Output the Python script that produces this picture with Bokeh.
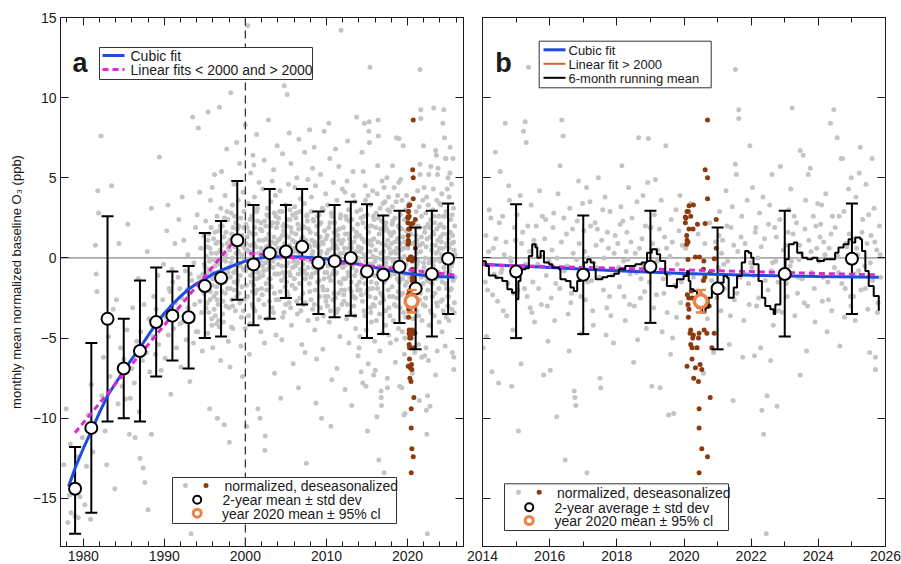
from bokeh.plotting import figure
from bokeh.models import Range1d, LinearAxis, SingleIntervalTicker, Span
from bokeh.layouts import row
from bokeh.embed import file_html
from bokeh.resources import INLINE
from bokeh.core.properties import value

# ---------------- data ----------------
gray_1977_1989 = [(1977.6,-12.9),(1977.9,-9.4),(1978.1,-16.5),(1978.3,-14.8),(1978.4,-11.6),(1978.5,-15.9),(1978.8,-13.6),(1979.0,-16.1),(1979.2,-12.4),(1979.4,-16.2),(1979.6,-14.9),(1979.9,-11.2),(1980.2,-15.4),(1980.4,-13.0),(1980.6,-9.8),(1980.9,-16.3),(1981.0,-7.9),(1981.2,-12.1),(1981.5,0.8),(1981.6,-1.0),(1981.7,-2.1),(1981.8,4.2),(1981.9,2.8),(1982.2,7.6),(1982.3,-8.6),(1982.5,-6.2),(1982.7,-10.8),(1982.9,-12.9),(1983.1,-4.9),(1983.3,-7.4),(1983.5,4.5),(1983.7,-3.2),(1983.9,-14.4),(1984.1,-2.6),(1984.3,-9.1),(1984.4,0.9),(1984.6,-5.6),(1984.8,-8.0),(1985.0,-6.3),(1985.2,-8.8),(1985.4,-4.5),(1985.5,2.1),(1985.7,-11.0),(1985.8,-8.75),(1986.0,-6.9),(1986.1,-3.1),(1986.3,-7.8),(1986.4,-11.2),(1986.6,-5.2),(1986.8,-1.3),(1986.9,-9.6),(1987.0,-12.5),(1987.1,-4.6),(1987.3,-6.4),(1987.4,-13.1),(1987.5,-2.9),(1987.6,-14.0),(1987.8,-5.9),(1987.9,0.4),(1988.0,-15.7),(1988.1,-3.8),(1988.2,-7.1),(1988.4,3.1),(1988.4,-11.0),(1988.6,-4.9),(1988.7,-2.4),(1988.9,-6.0),(1989.0,-3.2),(1989.2,-1.1),(1989.3,-5.4),(1989.4,6.3),(1989.5,-4.1),(1989.6,-7.0),(1989.8,-2.6),(1989.9,-0.4)]

gray_1990_1999 = [(1990.1,-6.25),(1990.2,-3.7),(1990.3,1.7),(1990.45,3.3),(1990.5,-4.8),(1990.6,-1.9),(1990.7,-2.1),(1990.8,-8.5),(1990.9,-3.0),(1990.95,-0.7),
(1991.05,-1.5),(1991.15,-4.4),(1991.3,0.9),(1991.4,-2.8),(1991.5,-5.6),(1991.6,-3.3),(1991.7,-1.2),(1991.8,2.4),(1991.9,-1.9),(1991.95,-4.1),
(1992.05,-6.8),(1992.15,-2.5),(1992.3,-4.0),(1992.4,1.1),(1992.5,-3.6),(1992.6,-0.8),(1992.7,-5.1),(1992.8,-2.0),(1992.9,0.2),(1992.95,-3.1),(1992.2,3.8),
(1993.05,-2.2),(1993.15,-7.7),(1993.3,-17.2),(1993.4,-1.4),(1993.5,8.8),(1993.55,-3.9),(1993.65,-0.3),(1993.75,-2.9),(1993.85,1.9),(1993.95,-4.6),(1993.2,-1.0),(1993.6,-5.3),
(1994.05,2.7),(1994.15,-4.6),(1994.2,8.1),(1994.3,-1.2),(1994.4,-2.7),(1994.5,0.6),(1994.6,-3.4),(1994.7,-5.8),(1994.75,-1.0),(1994.85,1.4),(1994.9,-2.2),(1994.95,-0.4),(1994.35,4.1),
(1995.05,-0.6),(1995.1,2.3),(1995.15,-3.1),(1995.2,-1.4),(1995.3,0.7),(1995.35,-4.7),(1995.4,9.1),(1995.45,-2.0),(1995.5,1.5),(1995.55,-0.2),(1995.6,-9.4),(1995.65,-2.6),(1995.7,3.6),(1995.75,-1.1),(1995.8,0.3),(1995.85,-3.8),(1995.9,-1.7),(1995.92,4.4),(1995.95,-0.9),(1995.98,-5.6),
(1996.02,-1.3),(1996.08,1.2),(1996.12,-2.4),(1996.2,5.2),(1996.25,-0.5),(1996.3,-3.6),(1996.38,0.9),(1996.45,-1.8),(1996.5,2.6),(1996.55,-10.0),(1996.6,-0.1),(1996.65,-2.9),(1996.72,1.7),(1996.78,-4.3),(1996.8,9.4),(1996.85,-1.0),(1996.9,0.5),(1996.95,-6.4),(1996.97,3.1),(1996.4,-2.2),
(1997.02,0.4),(1997.1,-2.1),(1997.15,2.0),(1997.22,-0.8),(1997.3,-4.0),(1997.35,1.3),(1997.4,-10.4),(1997.45,-1.5),(1997.5,3.9),(1997.55,-0.2),(1997.62,-3.0),(1997.7,6.8),(1997.75,0.9),(1997.8,-1.9),(1997.85,2.4),(1997.9,-5.2),(1997.95,-0.6),(1997.6,1.6),(1997.25,-2.7),(1997.05,5.4),
(1998.02,-11.5),(1998.08,1.1),(1998.15,-1.2),(1998.2,10.3),(1998.25,2.8),(1998.3,-2.6),(1998.38,0.0),(1998.45,-4.4),(1998.5,1.9),(1998.55,-0.9),(1998.6,4.6),(1998.65,-2.0),(1998.7,0.7),(1998.78,-3.3),(1998.82,2.2),(1998.88,-0.4),(1998.92,7.2),(1998.97,-1.6),(1998.4,3.3),(1998.1,-6.8),
(1999.02,1.8),(1999.08,-0.3),(1999.12,3.6),(1999.2,-2.2),(1999.25,0.9),(1999.3,5.9),(1999.35,-1.1),(1999.42,2.5),(1999.5,-3.7),(1999.55,0.2),(1999.6,1.4),(1999.65,-7.4),(1999.72,4.1),(1999.78,-0.7),(1999.83,2.9),(1999.88,-2.6),(1999.93,0.6),(1999.97,8.3),(1999.45,-5.5),(1999.15,1.0)]

gray_2000_2007 = [(2000.02,-0.8),(2000.08,2.1),(2000.15,-10.5),(2000.2,0.5),(2000.27,14.5),(2000.3,-2.4),(2000.35,3.4),(2000.42,-0.3),(2000.48,1.6),(2000.55,-4.1),(2000.6,0.8),(2000.66,5.3),(2000.72,-1.5),(2000.78,2.6),(2000.83,-2.9),(2000.88,0.1),(2000.93,6.4),(2000.97,-0.9),(2000.5,-6.0),(2000.25,1.3),
(2001.02,-1.7),(2001.08,0.9),(2001.12,3.8),(2001.2,-3.3),(2001.25,1.5),(2001.3,-0.6),(2001.38,7.7),(2001.45,-2.0),(2001.5,2.3),(2001.55,-9.4),(2001.62,0.3),(2001.7,4.7),(2001.75,-1.2),(2001.8,-10.0),(2001.85,1.8),(2001.9,-4.6),(2001.95,0.6),(2001.4,2.9),(2001.65,-2.6),(2001.05,5.8),
(2002.02,0.2),(2002.08,-2.3),(2002.15,4.3),(2002.2,1.1),(2002.25,-0.8),(2002.32,6.1),(2002.4,-12.0),(2002.45,-11.1),(2002.5,2.0),(2002.55,-1.6),(2002.6,0.7),(2002.68,-3.8),(2002.72,3.1),(2002.8,-0.2),(2002.85,8.6),(2002.9,1.5),(2002.95,-2.7),(2002.35,-5.3),(2002.65,2.7),(2002.12,-0.5),
(2003.02,1.0),(2003.08,-1.3),(2003.15,3.5),(2003.22,0.4),(2003.28,-3.1),(2003.35,2.2),(2003.4,-0.6),(2003.48,5.5),(2003.52,1.3),(2003.58,-2.2),(2003.65,0.0),(2003.72,3.9),(2003.78,-4.8),(2003.82,1.9),(2003.88,-1.0),(2003.92,7.0),(2003.97,0.6),(2003.6,-7.2),(2003.3,4.8),(2003.75,2.6),
(2004.02,-0.4),(2004.1,2.5),(2004.15,-2.6),(2004.22,1.2),(2004.28,4.2),(2004.35,-8.75),(2004.4,0.3),(2004.45,-1.4),(2004.52,2.9),(2004.58,6.5),(2004.62,-0.9),(2004.7,1.7),(2004.75,-3.4),(2004.8,10.75),(2004.85,0.9),(2004.9,-1.8),(2004.95,3.3),(2004.5,-5.1),(2004.25,0.0),(2004.65,2.0),
(2005.02,1.4),(2005.08,-1.5),(2005.15,10.2),(2005.2,2.4),(2005.25,-0.3),(2005.32,4.6),(2005.38,-2.8),(2005.45,0.8),(2005.5,3.0),(2005.55,-1.1),(2005.62,5.9),(2005.68,-4.2),(2005.72,1.6),(2005.8,-0.6),(2005.85,2.7),(2005.9,-6.6),(2005.95,0.4),(2005.4,7.8),(2005.6,1.9),(2005.12,-2.1),
(2006.02,0.6),(2006.08,3.2),(2006.15,-1.9),(2006.22,1.5),(2006.28,-0.2),(2006.35,5.0),(2006.42,-3.5),(2006.48,2.1),(2006.52,-1.0),(2006.6,7.4),(2006.65,0.9),(2006.7,-2.5),(2006.78,3.7),(2006.82,-0.7),(2006.9,1.2),(2006.95,-5.4),(2006.3,2.8),(2006.55,-8.1),(2006.12,4.4),(2006.75,0.2),
(2007.02,-0.9),(2007.08,2.0),(2007.15,0.5),(2007.2,-2.9),(2007.28,3.4),(2007.32,6.6),(2007.4,-1.3),(2007.45,1.1),(2007.52,-12.8),(2007.58,2.6),(2007.62,-0.1),(2007.7,4.9),(2007.75,-3.9),(2007.8,1.8),(2007.88,-1.6),(2007.92,8.0),(2007.97,0.7),(2007.35,-5.9),(2007.65,2.3),(2007.12,-0.4)]

gray_2008_2013 = [(2008.02,1.6),(2008.08,-1.2),(2008.15,3.8),(2008.22,0.2),(2008.28,-3.2),(2008.35,2.4),(2008.4,-0.6),(2008.48,6.9),(2008.52,1.0),(2008.6,-2.0),(2008.65,4.5),(2008.72,-0.3),(2008.78,-6.3),(2008.82,2.0),(2008.9,-1.5),(2008.95,0.7),(2008.3,5.6),(2008.55,-4.5),(2008.12,2.9),(2008.7,-9.05),
(2009.02,-0.7),(2009.08,2.7),(2009.15,-2.4),(2009.22,1.3),(2009.28,5.2),(2009.35,-0.1),(2009.4,-10.0),(2009.48,3.1),(2009.52,-1.8),(2009.6,0.9),(2009.65,-3.6),(2009.72,7.9),(2009.78,1.7),(2009.82,-0.9),(2009.9,4.0),(2009.95,-2.7),(2009.3,0.4),(2009.55,-5.7),(2009.12,2.1),(2009.7,-1.3),
(2010.02,0.3),(2010.08,-2.0),(2010.15,3.3),(2010.22,-0.5),(2010.28,1.9),(2010.35,-4.0),(2010.4,6.2),(2010.48,0.0),(2010.52,-1.4),(2010.6,2.8),(2010.65,-7.6),(2010.72,1.1),(2010.78,-2.6),(2010.85,4.7),(2010.9,-0.8),(2010.95,1.6),(2010.3,8.4),(2010.55,-10.5),(2010.12,-3.0),(2010.7,0.6),
(2011.02,2.2),(2011.08,-1.0),(2011.15,0.8),(2011.22,-3.4),(2011.28,3.6),(2011.35,-0.4),(2011.4,1.4),(2011.48,-2.2),(2011.52,5.7),(2011.6,0.1),(2011.65,-4.9),(2011.72,2.5),(2011.78,-1.6),(2011.8,14.2),(2011.85,0.9),(2011.9,-2.9),(2011.95,4.3),(2011.3,-6.9),(2011.55,1.8),(2011.12,6.8),
(2012.02,-0.6),(2012.08,1.9),(2012.15,-2.7),(2012.22,0.6),(2012.28,4.1),(2012.35,-1.3),(2012.4,2.6),(2012.48,-3.8),(2012.52,0.2),(2012.6,7.3),(2012.65,-0.9),(2012.72,3.0),(2012.78,-5.3),(2012.82,1.2),(2012.9,-1.9),(2012.95,0.9),(2012.3,-8.2),(2012.55,4.8),(2012.12,-2.3),(2012.7,1.5),
(2013.02,0.8),(2013.08,-2.1),(2013.15,2.4),(2013.22,-0.2),(2013.28,5.4),(2013.35,-3.0),(2013.4,1.0),(2013.48,-1.1),(2013.52,3.5),(2013.6,-4.4),(2013.65,0.4),(2013.72,8.8),(2013.78,-1.7),(2013.82,2.1),(2013.9,-6.1),(2013.95,0.0),(2013.3,3.9),(2013.55,-2.5),(2013.12,-9.2),(2013.7,1.6)]

gray_2014_2017 = [(2014.05,-0.3),(2014.1,1.4),(2014.15,-2.0),(2014.2,3.0),(2014.28,-7.1),(2014.32,0.6),(2014.38,6.6),(2014.42,-1.2),(2014.48,-7.8),(2014.5,2.2),(2014.53,5.4),(2014.58,-0.7),(2014.62,-3.3),(2014.68,8.4),(2014.7,1.0),(2014.75,-1.6),(2014.8,3.6),(2014.85,-0.2),(2014.87,-8.0),(2014.9,-4.5),(2014.95,1.9),(2014.12,-4.9),(2014.25,2.5),(2014.45,-2.7),(2014.65,0.2),(2014.78,4.5),(2014.02,-5.6),(2014.35,-1.0),
(2015.03,2.7),(2015.07,-10.8),(2015.1,-0.9),(2015.15,-6.6),(2015.2,1.6),(2015.22,7.9),(2015.27,8.5),(2015.3,7.2),(2015.33,-2.4),(2015.37,11.9),(2015.4,0.4),(2015.45,3.3),(2015.5,-1.5),(2015.55,-4.0),(2015.6,2.0),(2015.65,-0.4),(2015.7,4.2),(2015.75,-2.9),(2015.82,-7.3),(2015.85,1.2),(2015.9,-1.1),(2015.95,-5.2),(2015.12,3.9),(2015.42,-3.1),(2015.58,0.8),(2015.78,2.6),(2015.98,-0.2),(2015.25,-1.9),
(2016.02,-7.0),(2016.07,0.5),(2016.12,2.8),(2016.18,-1.6),(2016.21,-9.9),(2016.25,4.0),(2016.31,5.75),(2016.36,8.6),(2016.4,7.6),(2016.44,-0.8),(2016.46,-12.6),(2016.5,1.5),(2016.55,-3.5),(2016.6,3.1),(2016.65,-2.2),(2016.7,0.3),(2016.73,-8.3),(2016.75,-8.7),(2016.78,-9.2),(2016.82,2.3),(2016.86,4.8),(2016.9,-1.3),(2016.95,-4.7),(2016.15,-3.9),(2016.35,1.0),(2016.58,-5.8),(2016.88,0.9),(2016.98,3.4),
(2017.02,1.7),(2017.06,-2.6),(2017.11,-13.4),(2017.15,0.0),(2017.2,3.5),(2017.25,-1.4),(2017.3,-4.2),(2017.35,2.2),(2017.4,-0.6),(2017.45,5.0),(2017.5,-7.5),(2017.52,-8.1),(2017.55,1.1),(2017.6,-2.0),(2017.65,3.8),(2017.7,-3.1),(2017.75,0.6),(2017.8,2.9),(2017.85,-1.1),(2017.9,-5.3),(2017.95,1.4),(2017.1,4.4),(2017.32,-0.3),(2017.58,3.0),(2017.78,-2.4),(2017.98,-0.8),(2017.42,1.8),(2017.68,-4.8)]

gray_2018_2021 = [(2018.03,0.9),(2018.08,-1.8),(2018.12,3.2),(2018.15,5.75),(2018.2,-0.2),(2018.25,-3.9),(2018.3,1.6),(2018.35,4.4),(2018.4,-1.0),(2018.45,2.5),(2018.5,-6.5),(2018.55,0.3),(2018.6,3.5),(2018.65,7.5),(2018.7,-2.5),(2018.75,1.2),(2018.8,-0.5),(2018.85,2.0),(2018.88,-4.4),(2018.92,4.7),(2018.94,7.45),(2018.97,-1.5),(2018.18,2.3),(2018.38,-2.9),(2018.58,-0.9),(2018.78,3.9),(2018.62,-5.1),(2018.28,0.4),
(2019.02,1.9),(2019.04,-8.0),(2019.08,-0.7),(2019.12,2.7),(2019.18,-2.3),(2019.22,0.5),(2019.29,-8.1),(2019.32,3.6),(2019.38,-1.3),(2019.42,1.3),(2019.46,7.0),(2019.5,-3.4),(2019.54,-9.8),(2019.58,0.1),(2019.62,2.4),(2019.66,-5.0),(2019.69,-9.7),(2019.72,-1.7),(2019.76,3.0),(2019.8,-0.4),(2019.85,1.7),(2019.9,-2.8),(2019.95,0.8),(2019.15,4.9),(2019.35,-4.6),(2019.6,-6.0),(2019.88,3.9),(2019.98,-1.0),
(2020.05,0.6),(2020.12,-3.0),(2020.2,3.4),(2020.28,-1.2),(2020.35,-5.6),(2020.42,1.5),(2020.5,-2.2),(2020.58,-7.2),(2020.62,0.9),(2020.7,-3.8),(2020.76,2.2),(2020.82,-1.4),(2020.88,-5.9),(2020.94,1.0),(2020.98,-2.5),
(2021.02,-0.6),(2021.06,2.9),(2021.1,-3.3),(2021.15,1.1),(2021.2,-1.9),(2021.25,4.2),(2021.3,-0.2),(2021.35,-5.4),(2021.4,1.9),(2021.46,-8.9),(2021.5,-2.6),(2021.53,5.85),(2021.53,11.75),(2021.56,5.2),(2021.6,0.4),(2021.63,9.25),(2021.63,8.7),(2021.68,-1.2),(2021.72,2.6),(2021.78,-3.9),(2021.82,0.9),(2021.88,3.6),(2021.92,-1.6),(2021.96,7.0),(2021.98,-0.3),(2021.44,3.2),(2021.75,-6.2),(2021.12,0.3)]

gray_2022_2026 = [(2022.04,4.4),(2022.08,-1.1),(2022.12,1.6),(2022.16,-3.0),(2022.2,0.0),(2022.25,2.8),(2022.28,-5.6),(2022.32,-9.5),(2022.37,-11.0),(2022.4,1.2),(2022.45,-17.2),(2022.47,-8.6),(2022.5,-2.0),(2022.55,3.3),(2022.6,-0.8),(2022.62,5.2),(2022.66,-4.2),(2022.7,1.9),(2022.77,-9.25),(2022.8,-1.5),(2022.85,2.4),(2022.87,5.7),(2022.92,-3.4),(2022.96,0.5),(2022.1,-6.1),(2022.35,3.8),(2022.58,-6.4),(2022.73,-0.2),
(2023.03,0.8),(2023.07,-2.4),(2023.12,3.0),(2023.16,-0.5),(2023.22,9.35),(2023.25,1.5),(2023.3,-3.6),(2023.35,2.2),(2023.4,-1.2),(2023.46,6.7),(2023.46,-7.3),(2023.5,0.3),(2023.55,6.4),(2023.58,-2.8),(2023.62,3.6),(2023.65,-5.8),(2023.7,5.2),(2023.72,1.1),(2023.76,5.6),(2023.8,-0.9),(2023.85,2.6),(2023.9,-4.0),(2023.95,0.6),(2023.18,4.3),(2023.42,-0.1),(2023.6,1.8),(2023.88,-1.9),(2023.98,3.4),
(2024.02,-0.2),(2024.07,2.1),(2024.12,-2.7),(2024.16,1.0),(2024.22,4.0),(2024.28,-1.5),(2024.32,0.6),(2024.36,8.4),(2024.4,-3.3),(2024.46,9.25),(2024.5,1.9),(2024.56,7.5),(2024.6,-0.9),(2024.64,-5.5),(2024.68,6.2),(2024.72,6.2),(2024.76,2.9),(2024.8,-1.9),(2024.85,0.7),(2024.9,4.3),(2024.95,-2.4),(2024.1,3.3),(2024.26,-4.6),(2024.42,2.6),(2024.58,0.1),(2024.78,-3.7),(2024.92,1.5),(2024.98,5.0),
(2025.03,1.2),(2025.07,-1.0),(2025.12,3.8),(2025.17,0.2),(2025.22,5.3),(2025.27,-2.0),(2025.32,2.4),(2025.38,-0.5),(2025.42,4.6),(2025.47,-3.2),(2025.53,-5.9),(2025.57,1.4),(2025.62,-1.4),(2025.66,3.1),(2025.7,-6.2),(2025.7,-6.96),(2025.74,0.5),(2025.78,-2.8),(2025.82,2.0),(2025.86,-1.2),(2025.25,6.9),(2025.45,0.9),(2025.6,6.2),(2025.1,-3.9)]

# the dense core of the cloud (-4.5 .. +3 ppb)
gray_core_1995_2004 = [(1995.08,-1.9),(1995.18,0.1),(1995.28,-2.8),(1995.38,1.1),(1995.48,-3.4),(1995.58,-0.7),(1995.68,-2.1),(1995.78,1.9),(1995.88,-4.2),(1995.96,-1.3),(1995.33,-0.9),(1995.63,0.6),
(1996.05,-0.1),(1996.15,-3.2),(1996.24,1.6),(1996.33,-1.1),(1996.43,0.3),(1996.52,-2.6),(1996.62,1.0),(1996.7,-3.9),(1996.8,-0.4),(1996.9,2.0),(1996.98,-1.6),(1996.47,-4.1),
(1997.04,-1.2),(1997.13,0.8),(1997.2,-3.5),(1997.32,-0.1),(1997.42,2.5),(1997.5,-2.2),(1997.58,0.2),(1997.66,-1.3),(1997.74,2.9),(1997.84,-0.9),(1997.92,0.6),(1997.98,-3.1),
(1998.05,0.5),(1998.13,-1.9),(1998.22,-0.3),(1998.32,1.5),(1998.42,-3.0),(1998.52,0.9),(1998.6,-1.5),(1998.68,2.6),(1998.76,-0.8),(1998.85,0.3),(1998.94,-2.4),(1998.28,-4.3),
(1999.05,-1.4),(1999.14,0.4),(1999.22,2.0),(1999.32,-2.8),(1999.4,-0.5),(1999.48,1.2),(1999.57,-1.8),(1999.66,0.8),(1999.74,-3.3),(1999.82,1.9),(1999.9,-0.1),(1999.98,-4.4),
(2000.05,0.9),(2000.12,-1.7),(2000.22,1.9),(2000.32,-0.6),(2000.4,-3.6),(2000.46,0.4),(2000.58,2.4),(2000.65,-1.1),(2000.75,0.2),(2000.85,-2.1),(2000.92,1.5),(2000.99,-3.1),
(2001.04,-0.3),(2001.14,1.9),(2001.22,-2.2),(2001.33,0.7),(2001.42,-1.3),(2001.48,3.1),(2001.58,-0.9),(2001.67,1.1),(2001.77,-3.7),(2001.87,-0.2),(2001.93,2.2),(2001.99,-1.9),
(2002.05,1.7),(2002.14,-1.1),(2002.22,0.4),(2002.3,-2.9),(2002.38,2.3),(2002.48,-0.3),(2002.57,1.2),(2002.63,-2.0),(2002.74,-0.7),(2002.83,2.6),(2002.92,-1.3),(2002.99,0.8),
(2003.05,-0.5),(2003.12,2.0),(2003.2,-1.8),(2003.25,1.0),(2003.37,-0.2),(2003.45,-3.4),(2003.55,2.8),(2003.62,-1.0),(2003.7,0.9),(2003.8,-2.6),(2003.86,0.3),(2003.95,2.2),
(2004.05,1.1),(2004.13,-1.0),(2004.2,2.9),(2004.3,-2.1),(2004.38,0.6),(2004.48,-0.5),(2004.55,1.4),(2004.6,-3.7),(2004.68,0.2),(2004.78,2.1),(2004.88,-1.2),(2004.97,-2.9)]

gray_core_2005_2013 = [(2005.05,-0.5),(2005.1,2.0),(2005.18,0.2),(2005.28,-2.3),(2005.35,1.3),(2005.42,-0.9),(2005.52,2.4),(2005.58,-3.1),(2005.66,0.3),(2005.75,-1.7),(2005.82,1.1),(2005.92,-0.2),
(2006.05,-1.3),(2006.1,1.0),(2006.18,-0.5),(2006.25,2.5),(2006.33,-2.7),(2006.4,0.4),(2006.5,-0.3),(2006.58,1.8),(2006.68,-1.6),(2006.73,2.9),(2006.85,-3.3),(2006.93,0.1),
(2007.05,1.3),(2007.1,-2.2),(2007.18,0.9),(2007.25,-0.8),(2007.3,1.9),(2007.38,-2.8),(2007.48,0.0),(2007.55,-1.0),(2007.6,2.7),(2007.72,-0.6),(2007.83,0.8),(2007.95,-2.1),
(2008.05,-0.2),(2008.1,-2.6),(2008.18,1.1),(2008.25,-1.0),(2008.32,0.4),(2008.43,2.3),(2008.5,-2.9),(2008.58,0.8),(2008.68,-0.9),(2008.75,1.5),(2008.85,-3.8),(2008.92,2.6),
(2009.05,0.8),(2009.1,-1.4),(2009.18,0.2),(2009.25,-3.1),(2009.33,2.2),(2009.42,-0.6),(2009.5,1.0),(2009.58,-2.0),(2009.63,3.0),(2009.75,-0.3),(2009.85,-2.4),(2009.93,1.2),
(2010.05,-0.9),(2010.1,1.4),(2010.18,-2.4),(2010.25,0.5),(2010.33,-1.2),(2010.43,2.2),(2010.5,-3.3),(2010.58,0.0),(2010.68,2.6),(2010.75,-1.0),(2010.82,0.9),(2010.92,-2.2),
(2011.05,0.2),(2011.1,-2.5),(2011.18,1.7),(2011.25,-0.9),(2011.32,0.6),(2011.43,-3.2),(2011.5,1.1),(2011.58,-1.5),(2011.68,0.3),(2011.75,2.7),(2011.82,-2.0),(2011.92,-0.5),
(2012.05,1.1),(2012.1,-1.3),(2012.18,0.3),(2012.25,-2.0),(2012.33,1.5),(2012.43,-0.4),(2012.5,2.4),(2012.58,-2.9),(2012.68,0.6),(2012.75,-1.1),(2012.85,2.3),(2012.92,-3.4),
(2013.05,-1.5),(2013.1,0.6),(2013.18,-0.6),(2013.25,1.8),(2013.33,-2.4),(2013.43,0.2),(2013.5,-3.6),(2013.58,1.3),(2013.68,-0.8),(2013.75,2.9),(2013.85,-2.0),(2013.92,0.7)]

gray_core_2014_2025 = [(2014.08,-1.5),(2014.18,0.4),(2014.3,-2.3),(2014.4,1.2),(2014.55,-0.9),(2014.6,2.6),(2014.72,-3.6),(2014.82,0.0),(2014.92,-2.2),(2014.98,1.1),
(2015.05,-2.0),(2015.16,0.9),(2015.28,-0.4),(2015.35,2.0),(2015.47,-3.4),(2015.53,1.1),(2015.67,-1.9),(2015.73,0.1),(2015.88,2.4),(2015.93,-3.0),
(2016.05,-2.5),(2016.1,1.9),(2016.22,0.0),(2016.3,-1.9),(2016.42,2.5),(2016.52,-0.5),(2016.63,-2.8),(2016.68,1.8),(2016.8,-0.1),(2016.93,-2.4),
(2017.04,0.4),(2017.13,-1.5),(2017.22,2.0),(2017.28,-3.3),(2017.38,0.8),(2017.48,-1.2),(2017.62,0.0),(2017.72,1.6),(2017.82,-3.6),(2017.92,0.3),
(2018.05,-0.6),(2018.1,2.1),(2018.22,-2.4),(2018.33,-0.1),(2018.42,1.0),(2018.52,-3.0),(2018.67,0.6),(2018.72,-1.3),(2018.83,-2.1),(2018.99,1.9),
(2019.06,0.9),(2019.1,-3.1),(2019.2,-0.2),(2019.27,1.8),(2019.4,-2.2),(2019.48,0.6),(2019.56,-1.0),(2019.65,1.0),(2019.78,-3.7),(2019.92,-1.5),
(2021.04,1.4),(2021.08,-1.9),(2021.18,-0.4),(2021.28,2.0),(2021.38,-3.6),(2021.48,0.8),(2021.58,-2.2),(2021.7,1.3),(2021.85,-1.0),(2021.94,-2.9),
(2022.02,-0.6),(2022.14,1.9),(2022.22,-2.5),(2022.3,0.7),(2022.42,-1.4),(2022.52,2.1),(2022.64,-0.3),(2022.75,1.3),(2022.83,-3.3),(2022.94,-1.0),
(2023.05,-1.6),(2023.1,1.6),(2023.2,-0.2),(2023.28,2.6),(2023.38,-2.2),(2023.44,0.8),(2023.52,-1.3),(2023.68,-3.0),(2023.78,0.4),(2023.93,2.0),
(2024.05,1.3),(2024.14,-1.2),(2024.2,0.2),(2024.3,-2.6),(2024.38,1.5),(2024.48,-0.6),(2024.62,2.6),(2024.7,-1.6),(2024.82,0.9),(2024.97,-3.0),
(2025.05,-2.4),(2025.14,0.6),(2025.2,-0.8),(2025.3,1.6),(2025.4,-1.9),(2025.5,2.7),(2025.55,-0.3),(2025.68,1.0),(2025.76,-3.4),(2025.84,0.2)]

brown_2020 = [(2020.70,8.6),(2020.63,5.5),(2020.70,5.0),(2020.70,3.7),(2020.28,3.3),(2020.15,3.25),(2020.13,2.9),(2020.09,2.9),(2020.04,2.55),(2020.06,2.5),(2020.2,2.6),(2020.04,2.2),(2020.63,2.15),(2020.96,2.4),(2020.4,2.1),(2020.27,1.8),(2020.15,1.8),(2020.08,1.4),(2020.09,1.1),(2020.12,1.0),(2020.08,0.85),(2020.96,0.6),(2020.46,0.06),(2020.34,0.06),(2020.12,-0.1),(2020.9,-0.05),(2020.59,-0.19),(2020.58,-0.7),(2020.62,-1.2),(2020.58,-1.4),(2020.78,-0.9),(2020.1,-2.3),(2020.14,-2.5),(2020.12,-2.9),(2020.15,-3.2),(2020.13,-3.7),(2020.22,-2.06),(2020.25,-2.5),(2020.75,-3.0),(2020.2,-4.5),(2020.18,-4.7),(2020.28,-4.8),(2020.26,-5.0),(2020.45,-4.7),(2020.43,-5.0),(2020.6,-4.5),(2020.68,-4.7),(2020.9,-4.7),(2020.2,-5.4),(2020.24,-5.6),(2020.39,-5.6),(2020.83,-5.6),(2020.09,-6.75),(2020.24,-6.3),(2020.34,-6.85),(2020.48,-6.65),(2020.53,-6.96),(2020.29,-7.5),(2020.43,-7.7),(2020.78,-8.7),(2020.45,-9.4),(2020.45,-10.6),(2020.53,-11.9),(2020.70,-12.4),(2020.45,-13.4)]

# 2-year means +/- std dev
bin_year = [1979,1981,1983,1985,1987,1989,1991,1993,1995,1997,1999,2001,2003,2005,2007,2009,2011,2013,2015,2017,2019,2021,2023,2025]
bin_mean = [-14.4,-10.6,-3.8,-6.9,-5.8,-4.0,-3.6,-3.7,-1.75,-1.25,1.1,-0.4,0.3,0.4,0.7,-0.3,-0.2,0.0,-0.85,-1.05,-0.55,-1.9,-1.0,-0.05]
bin_upper = [-11.8,-5.3,2.6,-3.8,-1.4,-0.6,-0.85,-0.5,1.55,2.3,4.8,3.3,4.3,3.3,4.3,2.9,3.3,3.5,3.35,2.65,2.95,1.9,2.95,3.4]
bin_lower = [-17.2,-15.9,-10.2,-10.0,-10.2,-7.4,-6.4,-6.9,-5.0,-4.9,-2.6,-4.2,-3.8,-2.5,-2.9,-3.5,-3.7,-3.6,-5.0,-4.75,-4.05,-5.7,-4.9,-3.5]

# year 2020 mean +/- 95% cl
y2020_x = [2020.5]
y2020_mean = [-2.7]
y2020_lo = [-3.4]
y2020_hi = [-2.0]

# cubic fit
cubic_x = [1978.2,1979,1980,1981,1982,1983,1984,1985,1986,1987,1988,1989,1990,1991,1992,1993,1994,1995,1996,1997,1998,2000,2002,2004,2006,2008,2010,2012,2014,2016,2018,2020,2022,2024,2025.8]
cubic_y = [-14.25,-13.1,-11.9,-10.8,-9.65,-8.6,-7.8,-7.05,-6.3,-5.6,-4.85,-4.1,-3.45,-2.9,-2.4,-1.95,-1.6,-1.32,-1.0,-0.78,-0.58,-0.2,0.02,0.08,0.08,0.03,-0.07,-0.22,-0.4,-0.6,-0.8,-0.97,-1.08,-1.15,-1.2]

# linear fits < 2000 and > 2000
lin1_x = [1979.0, 1998.6]
lin1_y = [-10.9, 1.05]
lin2_x = [2000.5, 2025.8]
lin2_y = [0.3, -1.06]

# 6-month running mean (panel b)
run_x = [2014.0,2014.1,2014.19,2014.39,2014.59,2014.74,2014.88,2015.0,2015.07,2015.13,2015.28,2015.38,2015.48,2015.58,2015.63,2015.73,2015.83,2015.98,2016.08,2016.28,2016.32,2016.48,2016.62,2016.72,2016.82,2016.92,2017.02,2017.12,2017.22,2017.32,2017.37,2017.57,2017.72,2017.92,2018.06,2018.25,2018.55,2018.74,2018.9,2019.04,2019.19,2019.29,2019.44,2019.49,2019.74,2019.79,2019.99,2020.09,2020.14,2020.19,2020.29,2020.39,2020.54,2020.64,2020.73,2020.83,2020.93,2021.18,2021.28,2021.33,2021.48,2021.58,2021.72,2021.82,2021.92,2022.0,2022.07,2022.22,2022.32,2022.42,2022.57,2022.67,2022.72,2022.87,2023.02,2023.12,2023.27,2023.37,2023.52,2023.67,2023.82,2023.97,2024.17,2024.37,2024.5,2024.6,2024.75,2024.9,2025.0,2025.1,2025.25,2025.3,2025.4,2025.5,2025.65,2025.8]
run_y = [-0.2,-0.5,-1.1,-1.23,-1.44,-1.96,-2.17,-2.58,-1.44,-0.7,-0.65,0.12,0.85,0.65,0.02,0.44,-0.29,-0.4,-0.6,-0.7,-1.33,-1.44,-1.85,-2.06,-1.44,-0.81,-0.29,-0.08,-0.29,-0.71,-1.33,-1.2,-1.12,-0.98,-0.71,-0.5,-0.4,-0.29,0.33,0.54,0.23,-0.19,-1.02,-1.75,-1.85,-1.33,-1.12,-0.81,-1.44,-1.96,-2.06,-3.1,-3.4,-3.1,-2.48,-2.06,-1.54,-1.12,-1.23,-2.48,-1.85,-1.12,-0.29,0.44,0.33,0.02,-0.4,-1.44,-2.48,-3.0,-3.2,-3.5,-2.9,-1.02,-0.08,0.85,0.96,0.33,0.02,-0.08,0.02,-0.19,-0.08,-0.08,0.33,0.65,0.85,1.17,0.96,1.27,1.17,0.44,-0.81,-1.75,-2.37,-3.3]

Y_LABEL = "monthly mean normalized baseline O\u2083 (ppb)"
LEG_A_TOP = ["Cubic fit", "Linear fits < 2000 and > 2000"]
LEG_B_TOP = ["Cubic fit", "Linear fit > 2000", "6-month running mean"]
LEG_A_BOT = ["normalized, deseasonalized", "2-year mean \u00b1 std dev", "year 2020 mean \u00b1 95% cl"]
LEG_B_BOT = ["normalized, deseasonalized", "2-year average \u00b1 std dev", "year 2020 mean \u00b1 95% cl"]

# ---------------- styling ----------------
FONT = "Liberation Sans"
FW, FH = 403, 529
BLUE = "#1E4BE0"
MAGENTA = "#E028D0"
BROWN = "#8E3A0E"
ORANGE = "#EC8246"
LINORANGE = "#D9622A"
GRAY = "#C4C4C4"
INK = "#1a1a1a"


def unzip(*groups):
    xs, ys = [], []
    for g in groups:
        for a, b in g:
            xs.append(a)
            ys.append(b)
    return xs, ys


gx, gy = unzip(gray_1977_1989, gray_1990_1999, gray_2000_2007, gray_2008_2013,
               gray_2014_2017, gray_2018_2021, gray_2022_2026,
               gray_core_1995_2004, gray_core_2005_2013, gray_core_2014_2025)
bx, by = unzip(brown_2020)


def make_axis(interval, minor, labels, tick_len=8, minor_len=5):
    ax = LinearAxis(ticker=SingleIntervalTicker(interval=interval, num_minor_ticks=minor))
    ax.major_tick_in = tick_len
    ax.major_tick_out = 0
    ax.minor_tick_in = minor_len
    ax.minor_tick_out = 0
    ax.axis_line_color = INK
    ax.major_tick_line_color = INK
    ax.minor_tick_line_color = INK
    ax.major_tick_line_width = 1
    if labels:
        ax.major_label_text_font = FONT
        ax.major_label_text_font_size = "14px"
        ax.major_label_text_color = INK
        ax.major_label_standoff = 4
    else:
        ax.major_label_text_color = None
        ax.major_label_text_font_size = "0px"
        ax.major_label_standoff = 0
    return ax


def make_fig(xr, xint, xminor, left, right, ylabels):
    p = figure(frame_width=FW, frame_height=FH, x_range=Range1d(*xr), y_range=Range1d(-18, 15),
               output_backend="svg", toolbar_location=None,
               x_axis_location=None, y_axis_location=None,
               min_border_left=left, min_border_right=right, min_border_top=17, min_border_bottom=18)
    p.grid.visible = False
    p.xgrid.visible = False
    p.ygrid.visible = False
    p.extra_x_ranges = {"px": Range1d(0, FW)}
    p.extra_y_ranges = {"py": Range1d(FH, 0)}
    p.outline_line_color = INK
    p.outline_line_width = 1
    p.background_fill_color = "white"
    p.border_fill_color = "white"
    bottom = make_axis(xint, xminor, True)
    top = make_axis(xint, xminor, False)
    lefta = make_axis(5, 0, ylabels)
    righta = make_axis(5, 0, False)
    if ylabels:
        lefta.axis_label = Y_LABEL
        lefta.axis_label_text_font = FONT
        lefta.axis_label_text_font_size = "13px"
        lefta.axis_label_text_font_style = "normal"
        lefta.axis_label_text_color = INK
        lefta.axis_label_standoff = 6
    p.add_layout(bottom, "below")
    p.add_layout(top, "above")
    p.add_layout(lefta, "left")
    p.add_layout(righta, "right")
    p.add_layout(Span(location=0, dimension="width", line_color="#6a6a6a", line_width=1, level="underlay"))
    return p


def draw_data(p, dot, show_run):
    p.scatter(gx, gy, size=dot, fill_color=GRAY, line_color=None)
    p.scatter(bx, by, size=dot, fill_color=BROWN, line_color=None)
    # 2-year mean error bars
    p.segment(x0=bin_year, y0=bin_lower, x1=bin_year, y1=bin_upper, line_color="black", line_width=2)
    p.scatter(bin_year + bin_year, bin_lower + bin_upper, marker="dash", size=12,
              line_color="black", line_width=2)
    # fits
    p.line(cubic_x, cubic_y, line_color=BLUE, line_width=3)
    p.line(lin1_x, lin1_y, line_color=MAGENTA, line_width=3, line_dash="6 4")
    p.line(lin2_x, lin2_y, line_color=MAGENTA, line_width=3, line_dash="6 4")
    if show_run:
        p.step(run_x, run_y, mode="after", line_color="black", line_width=2)
    p.scatter(bin_year, bin_mean, size=12, fill_color="white", line_color="black", line_width=2)
    # 2020 mean
    p.segment(x0=y2020_x, y0=y2020_lo, x1=y2020_x, y1=y2020_hi, line_color=ORANGE, line_width=2.5)
    p.scatter(y2020_x + y2020_x, y2020_lo + y2020_hi, marker="dash", size=10, line_color=ORANGE, line_width=2.5)
    p.scatter(y2020_x, y2020_mean, size=13, fill_color="white", line_color=ORANGE, line_width=3.5)


def ltext(p, x, y, t, size="14px", bold=False, baseline="middle"):
    p.text(x=[x], y=[y], text=[t], x_range_name="px", y_range_name="py",
           text_font=value(FONT), text_font_size=size, text_color=INK,
           text_font_style="bold" if bold else "normal",
           text_baseline=baseline, text_align="left", level="overlay")


def lbox(p, l, r, t, b):
    p.quad(left=[l], right=[r], top=[t], bottom=[b], x_range_name="px", y_range_name="py",
           fill_color="white", line_color="#333333", line_width=1, level="overlay")


def lline(p, x0, x1, y, color, dash="solid", width=3):
    p.segment(x0=[x0], y0=[y], x1=[x1], y1=[y], x_range_name="px", y_range_name="py",
              line_color=color, line_width=width, line_dash=dash, level="overlay")


def lmark(p, x, y, size, fill, line=None, lw=0):
    p.scatter(x=[x], y=[y], size=size, fill_color=fill, line_color=line, line_width=lw,
              x_range_name="px", y_range_name="py", level="overlay")


# ---------------- panel a ----------------
pa = make_fig((1977.2, 2026.9), 10, 5, 60, 1, True)
draw_data(pa, 5, False)
pa.add_layout(Span(location=2000, dimension="height", line_color="#333333", line_width=1.3, line_dash="8 5"))
lbox(pa, 39, 252, 30, 62)
lline(pa, 42, 64, 38, BLUE)
lline(pa, 42, 64, 52, MAGENTA, "6 4")
ltext(pa, 70, 38.5, LEG_A_TOP[0])
ltext(pa, 70, 52.5, LEG_A_TOP[1])
lbox(pa, 112, 336, 460, 506)
lmark(pa, 125, 468, 5, GRAY)
lmark(pa, 145.5, 468, 5, BROWN)
lmark(pa, 136.7, 482.3, 8, "white", "black", 2)
lmark(pa, 136.7, 495.7, 8, "white", ORANGE, 3)
ltext(pa, 164, 468.5, LEG_A_BOT[0])
ltext(pa, 162, 482.5, LEG_A_BOT[1])
ltext(pa, 161.5, 496, LEG_A_BOT[2])
ltext(pa, 12, 45, "a", size="27px", bold=True, baseline="alphabetic")

# ---------------- panel b ----------------
pb = make_fig((2014, 2026), 2, 2, 18, 16, False)
draw_data(pb, 5, True)
lbox(pb, 56.7, 228.7, 23.7, 70.3)
lline(pb, 61, 83, 32.3, BLUE)
lline(pb, 61, 83, 46.3, LINORANGE, "solid", 2)
lline(pb, 61, 83, 60.3, "black", "solid", 2)
ltext(pb, 86, 32.8, LEG_B_TOP[0], size="13px")
ltext(pb, 86, 46.8, LEG_B_TOP[1], size="13px")
ltext(pb, 86, 60.8, LEG_B_TOP[2], size="13px")
lbox(pb, 22, 246, 466.3, 513)
lmark(pb, 36, 474.7, 5, GRAY)
lmark(pb, 56.7, 474.7, 5, BROWN)
lmark(pb, 46.7, 489.7, 8, "white", "black", 2)
lmark(pb, 46.7, 503, 8, "white", ORANGE, 3)
ltext(pb, 74.4, 475.2, LEG_B_BOT[0])
ltext(pb, 72, 490.2, LEG_B_BOT[1])
ltext(pb, 72, 503.5, LEG_B_BOT[2])
ltext(pb, 12.7, 45, "b", size="27px", bold=True, baseline="alphabetic")

layout = row(pa, pb)
open("out.html", "w").write(file_html(layout, INLINE))
